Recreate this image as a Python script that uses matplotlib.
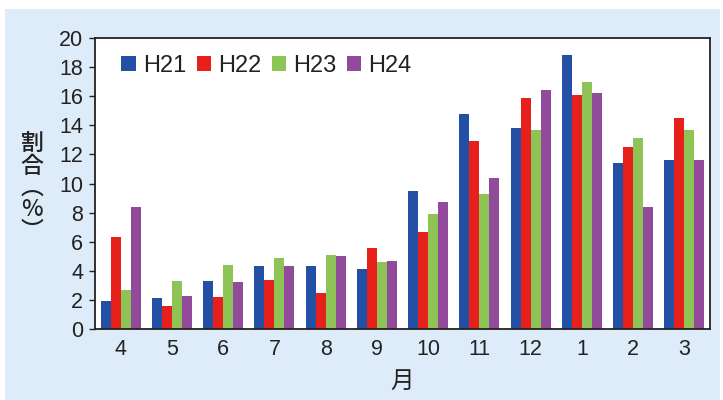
import matplotlib
matplotlib.use("Agg")
import matplotlib.pyplot as plt
import matplotlib.patches as mpatches
import numpy as np

months = ["4", "5", "6", "7", "8", "9", "10", "11", "12", "1", "2", "3"]
series_names = ["H21", "H22", "H23", "H24"]
h21 = [1.9, 2.1, 3.3, 4.3, 4.3, 4.1, 9.5, 14.8, 13.8, 18.8, 11.4, 11.6]
h22 = [6.3, 1.6, 2.2, 3.4, 2.5, 5.6, 6.7, 12.9, 15.9, 16.1, 12.5, 14.5]
h23 = [2.7, 3.3, 4.4, 4.9, 5.1, 4.6, 7.9, 9.3, 13.7, 17.0, 13.1, 13.7]
h24 = [8.4, 2.3, 3.2, 4.3, 5.0, 4.7, 8.7, 10.4, 16.4, 16.2, 8.4, 11.6]
yticks = list(range(0, 21, 2))

colors = ["#2350a4", "#e8201c", "#8dc455", "#924b9b"]

plt.rcParams['font.family'] = ['Liberation Sans', 'DejaVu Sans']

fig = plt.figure(figsize=(7.23, 4.00), dpi=100)
fig.patch.set_facecolor("white")
bg = mpatches.Rectangle((5 / 723, 0), 715 / 723, 391 / 400, transform=fig.transFigure,
                        facecolor="#deebf8", edgecolor="none", zorder=-10)
fig.add_artist(bg)

ax = fig.add_axes([95 / 723, 71 / 400, 615 / 723, 291 / 400])
ax.set_zorder(1)
ax.set_facecolor("white")

x = np.arange(len(months))
w = 0.195
data = [h21, h22, h23, h24]
for i, (vals, name, c) in enumerate(zip(data, series_names, colors)):
    ax.bar(x + (i - 1.5) * w, vals, width=w, color=c, label=name, edgecolor="none")

ax.set_xlim(-0.5, len(months) - 0.5)
ax.set_ylim(0, 20)
ax.set_yticks(yticks)
ax.set_xticks(x)
ax.set_xticklabels(months)
ax.tick_params(axis="x", length=0, pad=7, labelsize=15.5, colors="#222222")
ax.tick_params(axis="y", length=4.5, width=1, pad=4, labelsize=15.5, colors="#222222", direction="out")
for s in ax.spines.values():
    s.set_color("#222222")
    s.set_linewidth(1.3)

leg = ax.legend(loc="upper left", ncol=4, frameon=False, fontsize=17,
                handlelength=0.6, handleheight=0.6, handletextpad=0.3,
                columnspacing=0.45, bbox_to_anchor=(0.02, 0.99), borderaxespad=0.2)
for t in leg.get_texts():
    t.set_color("#222222")

fig.text(0.5 * (95 + 710) / 723, 1 - 381 / 400, "月", ha="center", va="center",
         fontsize=17, family=["Noto Sans CJK JP", "DejaVu Sans"], color="#222222")
fig.text(32 / 723, 1 - 188 / 400, "割\n合\n︵\n%\n︶", ha="center", va="center",
         fontsize=16.5, family=["Noto Sans CJK JP", "DejaVu Sans"], color="#222222",
         linespacing=0.92, fontweight="medium")

fig.savefig("out.png", dpi=100)
